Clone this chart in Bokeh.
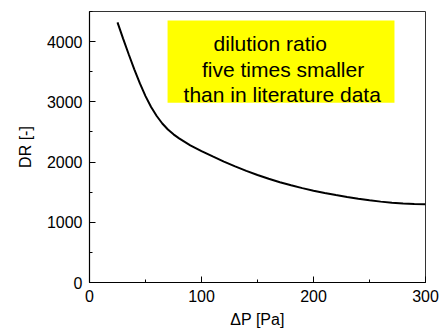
from bokeh.plotting import figure
from bokeh.models import Range1d, SingleIntervalTicker, BoxAnnotation, Label
from bokeh.embed import file_html
from bokeh.resources import INLINE

# Data
pressure_drop = [25, 30, 35, 40, 45, 50, 55, 60, 65, 70, 75, 80, 90, 100, 110, 120, 130, 140,
                 150, 160, 170, 180, 190, 200, 210, 220, 230, 240, 250, 260, 270, 280, 290, 300]
dilution_ratio = [4320, 4050, 3790, 3540, 3305, 3095, 2915, 2765, 2640, 2540, 2460, 2393,
                  2278, 2183, 2093, 2008, 1928, 1853, 1785, 1723, 1666, 1614, 1567, 1525,
                  1487, 1452, 1420, 1391, 1365, 1343, 1325, 1312, 1304, 1300]
note_lines = ["dilution ratio", "five times smaller", "than in literature data"]

FONT = "Liberation Sans"

p = figure(width=448, height=331, output_backend="svg", toolbar_location=None,
           x_range=Range1d(0, 300), y_range=Range1d(0, 4500),
           min_border_left=89, min_border_right=23, min_border_top=11, min_border_bottom=49)

p.xgrid.visible = False
p.ygrid.visible = False
p.background_fill_color = "white"
p.border_fill_color = "white"
p.outline_line_color = "#333333"
p.outline_line_width = 1

# note box
p.add_layout(BoxAnnotation(left=69.7, right=272.3, bottom=2984, top=4351,
                           fill_color="#ffff00", fill_alpha=1.0, line_color=None, level="underlay"))
note_x = [110.8, 100.4, 84.0]
note_y = [3964, 3532, 3117]
for t, lx, ly in zip(note_lines, note_x, note_y):
    p.add_layout(Label(x=lx, y=ly, text=t, text_font=FONT, text_font_size="21px",
                       text_align="left", text_baseline="alphabetic", text_color="black"))

p.line(pressure_drop, dilution_ratio, line_color="black", line_width=2)

for ax in (p.xaxis[0], p.yaxis[0]):
    ax.axis_line_color = "black"
    ax.axis_line_width = 1.2
    ax.major_tick_in = 6
    ax.major_tick_out = 0
    ax.minor_tick_in = 3
    ax.minor_tick_out = 0
    ax.major_tick_line_color = "black"
    ax.minor_tick_line_color = "black"
    ax.major_label_text_font = FONT
    ax.major_label_text_font_size = "16px"
    ax.major_label_text_color = "black"
    ax.axis_label_text_font = FONT
    ax.axis_label_text_font_size = "16px"
    ax.axis_label_text_font_style = "normal"
    ax.axis_label_text_color = "black"

p.xaxis[0].ticker = SingleIntervalTicker(interval=100, num_minor_ticks=2)
p.yaxis[0].ticker = SingleIntervalTicker(interval=1000, num_minor_ticks=2)
p.xaxis[0].major_label_standoff = 7
p.xaxis[0].axis_label_standoff = 6
p.yaxis[0].major_label_standoff = 7
p.yaxis[0].axis_label_standoff = 10
p.xaxis[0].axis_label = "ΔP [Pa]"
p.yaxis[0].axis_label = "DR [-]"

open("out.html", "w").write(file_html(p, INLINE))
